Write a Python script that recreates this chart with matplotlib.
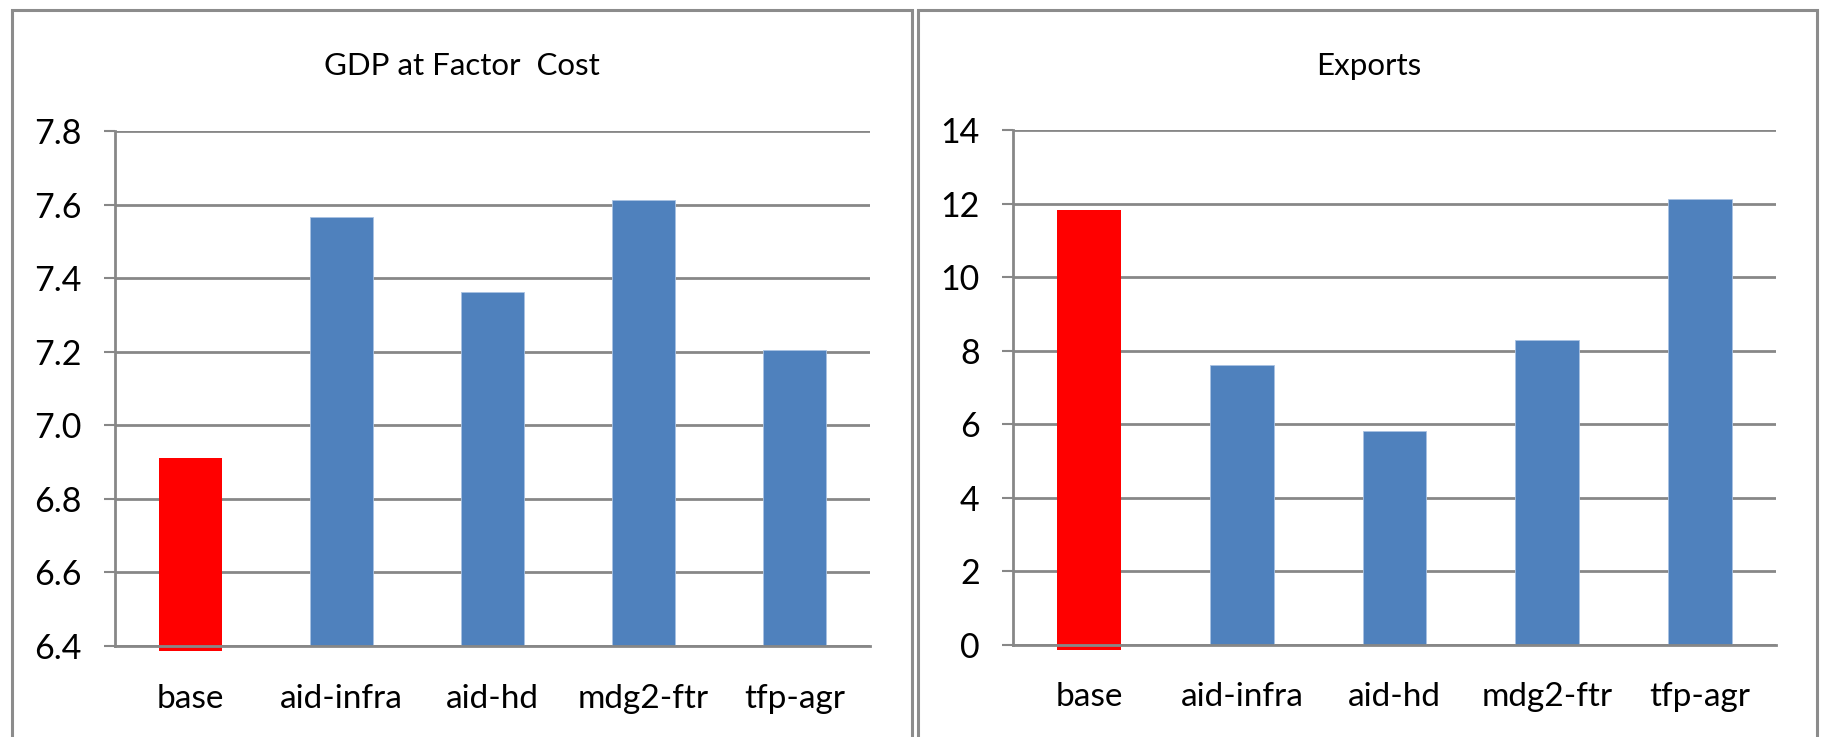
import matplotlib
matplotlib.use("Agg")
import matplotlib.pyplot as plt
from matplotlib.patches import Rectangle

plt.rcParams['font.family'] = ['Lato', 'DejaVu Sans']

# escenarios y resultados
escenarios = ["base", "aid-infra", "aid-hd", "mdg2-ftr", "tfp-agr"]
pib_costo_factores = [6.91, 7.566, 7.361, 7.612, 7.206]
exportaciones = [11.82, 7.60, 5.83, 8.30, 12.12]

titulos = ["GDP at Factor  Cost", "Exports"]
ticks_pib = [6.4, 6.6, 6.8, 7.0, 7.2, 7.4, 7.6, 7.8]
ticks_exp = [0, 2, 4, 6, 8, 10, 12, 14]

AZUL = "#4F81BD"
ROJO = "#FF0000"
GRIS = "#878787"

W, H = 1822, 737
fig = plt.figure(figsize=(W / 100, H / 100), dpi=100)


def px(x0, y0, x1, y1):
    # caja en pixeles -> fraccion de figura
    return [x0 / W, 1 - y1 / H, (x1 - x0) / W, (y1 - y0) / H]


def panel(caja, valores, ticks, etiquetas_y, titulo, cx):
    ax = fig.add_axes(px(*caja))
    lo, hi = ticks[0], ticks[-1]
    alto_px = caja[3] - caja[1]
    extra = 5 * (hi - lo) / alto_px  # la barra base baja un poco del eje

    colores = [ROJO] + [AZUL] * (len(valores) - 1)
    for i, (v, c) in enumerate(zip(valores, colores)):
        if i == 0:
            ax.bar(i, v - lo + extra, bottom=lo - extra, width=0.417,
                   color=c, zorder=3, clip_on=False)
        else:
            ax.bar(i, v - lo, bottom=lo, width=0.417, color=c, zorder=3,
                   edgecolor="#A9C2E2", linewidth=0.6)

    ax.set_xlim(-0.5, len(valores) - 0.5)
    ax.set_ylim(lo, hi)
    ax.set_yticks(ticks)
    ax.set_yticklabels(etiquetas_y)
    ax.set_xticks(range(len(escenarios)))
    ax.set_xticklabels(escenarios)

    ax.grid(axis="y", color=GRIS, linewidth=2, zorder=1)
    for s in ["top", "right"]:
        ax.spines[s].set_visible(False)
    for s in ["left", "bottom"]:
        ax.spines[s].set_color(GRIS)
        ax.spines[s].set_linewidth(2)
        ax.spines[s].set_zorder(4)
    ax.tick_params(axis="y", length=8, width=1.5, color=GRIS, pad=16,
                   labelsize=24.5)
    ax.tick_params(axis="x", length=0, pad=27, labelsize=24)

    fig.text(cx / W, 1 - 75 / H, titulo, ha="center", va="baseline",
             fontsize=22.5)
    return ax


panel((115, 131, 870, 646), pib_costo_factores, ticks_pib,
      [f"{t:.1f}" for t in ticks_pib], titulos[0], 462)
panel((1013, 130, 1776, 645), exportaciones, ticks_exp,
      [str(t) for t in ticks_exp], titulos[1], 1369)

# marcos de cada grafica
for x0, x1 in [(12, 912), (918, 1817)]:
    fig.patches.append(Rectangle((x0 / W, -0.05), (x1 - x0) / W,
                                 1.05 - 10 / H, transform=fig.transFigure,
                                 fill=False, edgecolor="#8C8C8C",
                                 linewidth=2.2, clip_on=False))

fig.savefig("out.png", dpi=100, facecolor="white")
